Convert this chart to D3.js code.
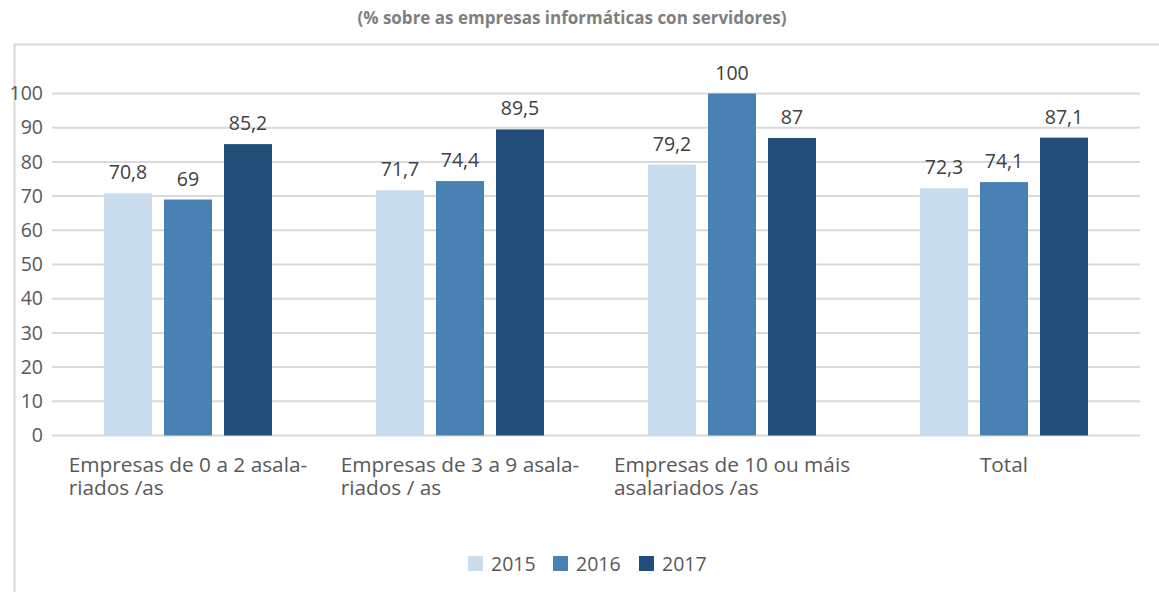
<!DOCTYPE html>
<html>
<head>
<meta charset="utf-8">
<script src="https://cdn.jsdelivr.net/npm/d3@7"></script>
<style>
  body { margin: 0; background: #fff; }
  svg text { font-family: "Open Sans", sans-serif; }
</style>
</head>
<body>
<div id="chart"></div>
<script>
var categories = [
  ["Empresas de 0 a 2 asala-", "riados /as"],
  ["Empresas de 3 a 9 asala-", "riados / as"],
  ["Empresas de 10 ou máis", "asalariados /as"],
  ["Total"]
];
var years = ["2015", "2016", "2017"];
var values2015 = [70.8, 71.7, 79.2, 72.3];
var values2016 = [69, 74.4, 100, 74.1];
var values2017 = [85.2, 89.5, 87, 87.1];
var yTicks = [0, 10, 20, 30, 40, 50, 60, 70, 80, 90, 100];
var colors = ["#c9ddee", "#4a81b4", "#204e78"];
var title = "(% sobre as empresas informáticas con servidores)";

var width = 1159, height = 592;
var margin = {left: 52, right: 19, top: 94, bottom: 156};

var svg = d3.select("#chart").append("svg")
    .attr("width", width)
    .attr("height", height);

// chart border (runs off the right/bottom edge)
svg.append("rect")
    .attr("x", 14.5).attr("y", 44.5)
    .attr("width", width).attr("height", height)
    .attr("fill", "none")
    .attr("stroke", "#d9d9d9")
    .attr("stroke-width", 2);

svg.append("text")
    .attr("x", 572).attr("y", 24)
    .attr("text-anchor", "middle")
    .attr("font-size", 17)
    .attr("font-weight", "bold")
    .attr("fill", "#7f7f7f")
    .text(title);

var x0 = d3.scaleBand()
    .domain(d3.range(categories.length))
    .range([margin.left, width - margin.right]);

var x1 = d3.scaleBand()
    .domain(years)
    .range([0, x0.bandwidth()])
    .paddingInner(0.2)
    .paddingOuter(0.867);

var y = d3.scaleLinear()
    .domain([0, 100])
    .range([height - margin.bottom - 0.5, margin.top - 0.5]);

// gridlines
svg.append("g")
    .selectAll("line")
    .data(yTicks)
    .enter().append("line")
    .attr("x1", margin.left).attr("x2", width - margin.right)
    .attr("y1", function(d) { return y(d); })
    .attr("y2", function(d) { return y(d); })
    .attr("stroke", "#d9d9d9")
    .attr("stroke-width", 2);

// y axis labels
var yAxis = svg.append("g")
    .attr("transform", "translate(" + margin.left + ",0)")
    .call(d3.axisLeft(y).tickValues(yTicks).tickSize(0).tickPadding(9));
yAxis.select(".domain").remove();
yAxis.selectAll("text")
    .attr("font-size", 19.5)
    .attr("fill", "#595959")
    .style("font-family", "'Open Sans', sans-serif");

var series = [values2015, values2016, values2017];
var fmt = function(v) { return String(v).replace(".", ","); };

series.forEach(function(vals, si) {
  var g = svg.append("g");
  g.selectAll("rect")
    .data(vals)
    .enter().append("rect")
    .attr("x", function(d, i) { return x0(i) + x1(years[si]); })
    .attr("y", function(d) { return y(d); })
    .attr("width", x1.bandwidth())
    .attr("height", function(d) { return y(0) - y(d); })
    .attr("fill", colors[si]);
  g.selectAll("text")
    .data(vals)
    .enter().append("text")
    .attr("x", function(d, i) { return x0(i) + x1(years[si]) + x1.bandwidth() / 2; })
    .attr("y", function(d) { return y(d) - 14; })
    .attr("text-anchor", "middle")
    .attr("font-size", 19.5)
    .attr("fill", "#404040")
    .text(fmt);
});

// category labels (block centred, lines left aligned like Excel)
var catG = svg.append("g").selectAll("g")
    .data(categories)
    .enter().append("g");
catG.each(function(lines, i) {
  var t = d3.select(this).append("text")
      .attr("font-size", 20.8)
      .attr("fill", "#595959");
  lines.forEach(function(l, k) {
    t.append("tspan").attr("x", 0).attr("y", 472 + k * 23).text(l);
  });
  var w = t.node().getBBox().width;
  var left = x0(i) + x0.bandwidth() / 2 - w / 2;
  t.selectAll("tspan").attr("x", left);
});

// legend
var legend = svg.append("g").attr("transform", "translate(468,556)");
var lx = [0, 85, 171];
years.forEach(function(yr, i) {
  var lg = legend.append("g").attr("transform", "translate(" + lx[i] + ",0)");
  lg.append("rect").attr("width", 15).attr("height", 15).attr("fill", colors[i]);
  lg.append("text").attr("x", 23).attr("y", 15)
    .attr("font-size", 19.5).attr("fill", "#595959").text(yr);
});
</script>
</body>
</html>
